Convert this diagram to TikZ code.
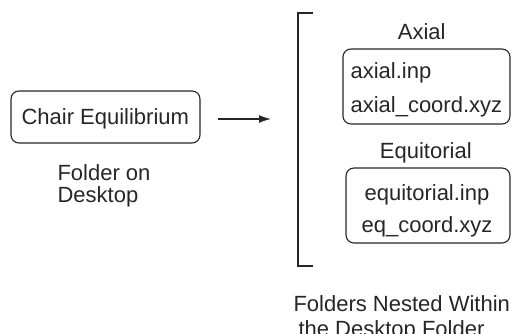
\documentclass[tikz,border=0pt]{standalone}
\usepackage{fontspec}
\setmainfont{Liberation Sans}
\usetikzlibrary{arrows.meta}
\begin{document}
\begin{tikzpicture}[x=1pt,y=-1pt,
  every node/.style={font=\fontsize{22}{24}\selectfont, inner sep=0pt, text=black!85},
  folder/.style={draw=black!85, rounded corners=8pt, line width=1.1pt},
  txtl/.style={anchor=base west},
  txtc/.style={anchor=base},
  line width=1.1pt]
\useasboundingbox (0,0) rectangle (512,334);
% left folder
\node[folder, minimum width=189pt, minimum height=52pt] (chair) at (105.5,117) {};
\node[txtl] (chairtxt) at (21,125) {Chair Equilibrium};
\node[txtl] (lbl1a) at (57,181) {Folder on};
\node[txtl] (lbl1b) at (57,203) {Desktop};
% arrow
\coordinate (arrowend) at (271,119);
\draw[-{Latex[length=12pt,width=8pt]}, line width=1.3pt, shorten <=17pt, draw=black!85] (chair.east |- arrowend) -- (arrowend);
% bracket
\draw[draw=black!85] (313,13) -- (298,13) -- (298,266) -- (313,266);
% axial
\node[txtc] (axial) at (421.7,40) {Axial};
\node[folder, minimum width=167pt, minimum height=75pt] (axbox) at (426.5,86.5) {};
\node[txtl] (ax1) at (350,79) {axial.inp};
\node[txtl] (ax2) at (350,112.7) {axial\_coord.xyz};
% equitorial
\node[txtc] (equit) at (425.8,159) {Equitorial};
\node[folder, minimum width=164pt, minimum height=75pt] (eqbox) at (428,205.5) {};
\node[txtc] (eq1) at (427,200.7) {equitorial.inp};
\node[txtc] (eq2) at (427,232.7) {eq\_coord.xyz};
% bottom label
\node[txtl] (lbl2a) at (293,311.5) {Folders Nested Within};
\node[txtl] (lbl2b) at (298,336.5) {the Desktop Folder};
\end{tikzpicture}
\end{document}
